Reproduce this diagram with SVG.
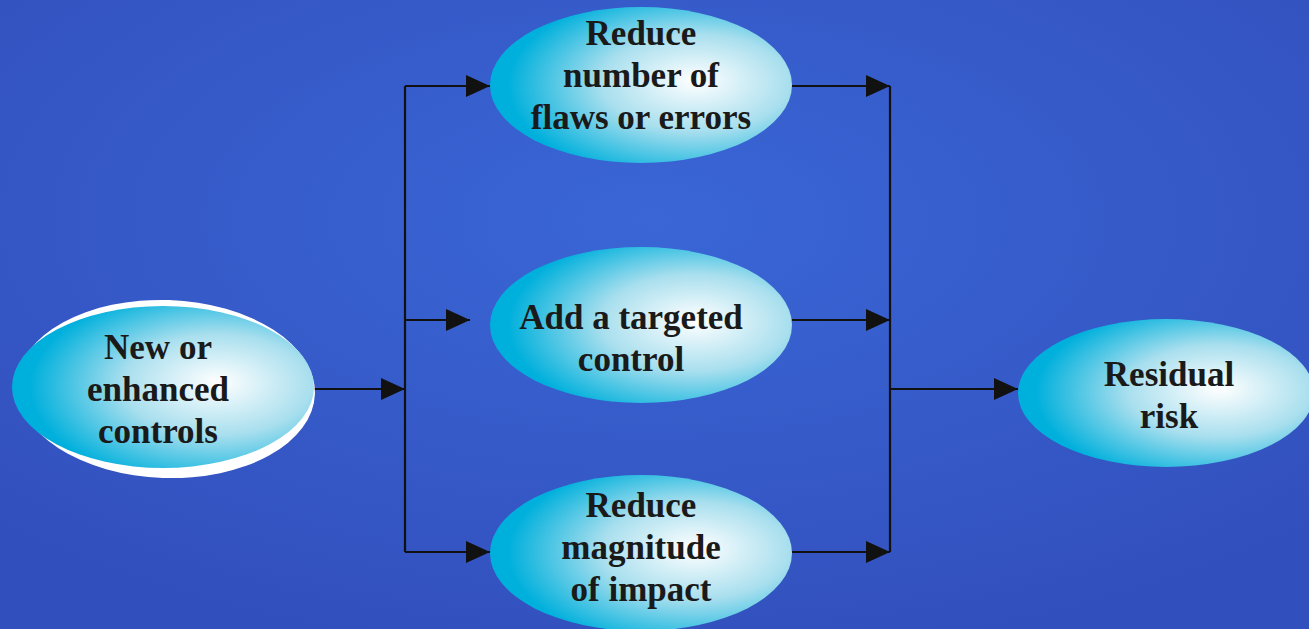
<svg xmlns="http://www.w3.org/2000/svg" width="1309" height="629" viewBox="0 0 1309 629">
<defs>
<radialGradient id="bg" cx="50%" cy="35%" r="70%">
<stop offset="0" stop-color="#3a66d6"/>
<stop offset="1" stop-color="#3250bd"/>
</radialGradient>
<radialGradient id="node" cx="0.68" cy="0.5" r="0.62" fx="0.68" fy="0.47">
<stop offset="0" stop-color="#ffffff"/>
<stop offset="0.5" stop-color="#a9dfee"/>
<stop offset="1" stop-color="#00b0dc"/>
</radialGradient>
<marker id="arr" markerWidth="24" markerHeight="22" refX="24" refY="11" orient="auto" markerUnits="userSpaceOnUse">
<path d="M0,0 L24,11 L0,22 Z" fill="#111"/>
</marker>
<style>
.n{fill:url(#node);}
.t{font-family:"Liberation Serif","Times New Roman",serif;font-weight:bold;font-size:35px;fill:#1a1a1a;text-anchor:middle;}
.c{stroke:#111;stroke-width:2.2;fill:none;}
</style>
</defs>
<rect width="1309" height="629" fill="url(#bg)"/>
<g id="connectors">
<path class="c" d="M313,389 H405" marker-end="url(#arr)"/>
<path class="c" d="M405,86 V552"/>
<path class="c" d="M405,86 H490" marker-end="url(#arr)"/>
<path class="c" d="M405,320 H470" marker-end="url(#arr)"/>
<path class="c" d="M405,552 H490" marker-end="url(#arr)"/>
<path class="c" d="M792,86 H890" marker-end="url(#arr)"/>
<path class="c" d="M792,320 H890" marker-end="url(#arr)"/>
<path class="c" d="M792,552 H890" marker-end="url(#arr)"/>
<path class="c" d="M890,86 V552"/>
<path class="c" d="M890,389 H1018" marker-end="url(#arr)"/>
</g>
<g id="n-new">
<ellipse cx="166" cy="389" rx="149" ry="89" fill="#ffffff" transform="rotate(2 166 389)"/>
<ellipse class="n" cx="163" cy="387" rx="151" ry="81"/>
<text class="t" x="158" y="359">New or</text>
<text class="t" x="158" y="401">enhanced</text>
<text class="t" x="158" y="443">controls</text>
</g>
<g id="n-reduce-flaws">
<ellipse class="n" cx="641" cy="85" rx="151" ry="78"/>
<text class="t" x="641" y="45">Reduce</text>
<text class="t" x="641" y="87">number of</text>
<text class="t" x="641" y="129">flaws or errors</text>
</g>
<g id="n-add">
<ellipse class="n" cx="641" cy="325" rx="151" ry="78"/>
<text class="t" x="631" y="329">Add a targeted</text>
<text class="t" x="631" y="371">control</text>
</g>
<g id="n-reduce-impact">
<ellipse class="n" cx="641" cy="553" rx="151" ry="78"/>
<text class="t" x="641" y="517">Reduce</text>
<text class="t" x="641" y="559">magnitude</text>
<text class="t" x="641" y="601">of impact</text>
</g>
<g id="n-residual">
<ellipse class="n" cx="1166" cy="393" rx="148" ry="74"/>
<text class="t" x="1169" y="386">Residual</text>
<text class="t" x="1169" y="428">risk</text>
</g>
</svg>
